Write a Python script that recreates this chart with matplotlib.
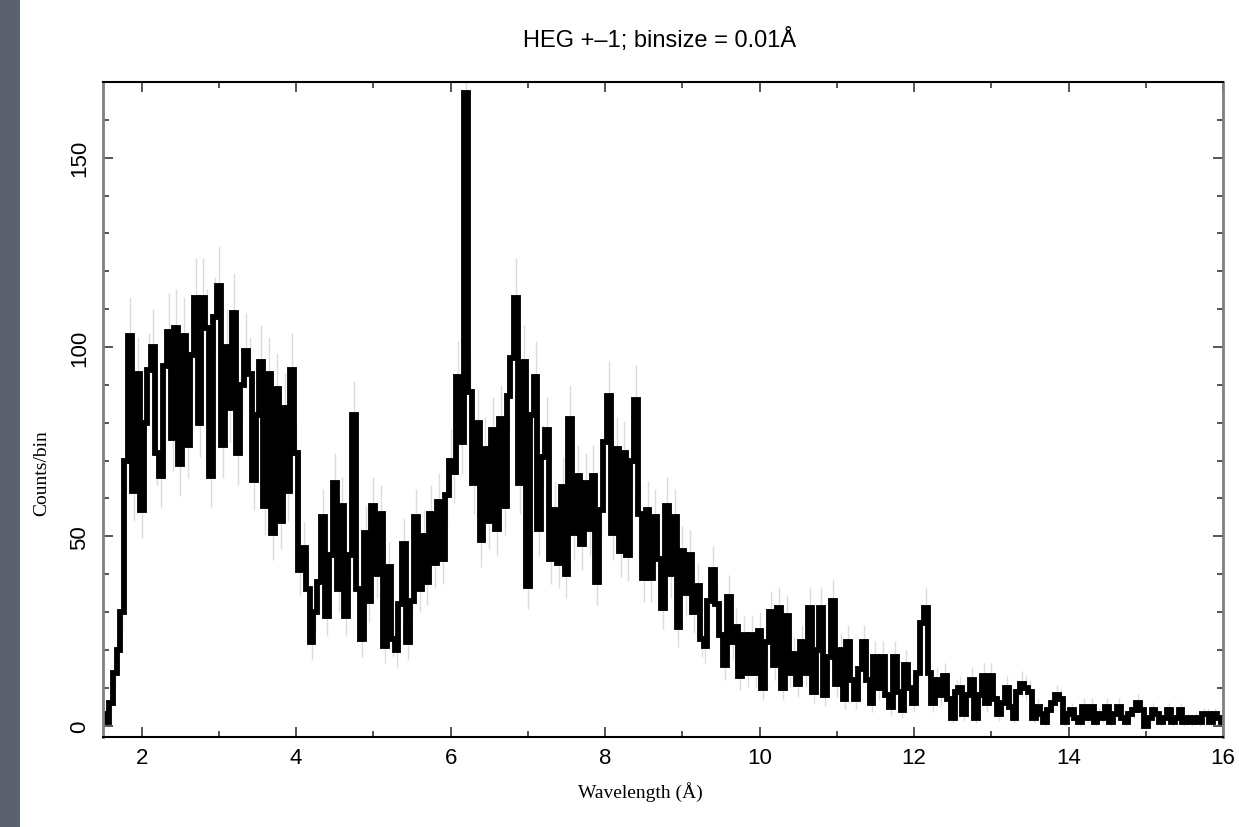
import numpy as np
import matplotlib.pyplot as plt
from matplotlib.patches import Rectangle

# wavelength grid (Angstrom), read every 0.05 A off the picture
wave_start = 1.5
wave_step = 0.05
counts = [
    3, 1, 6, 14, 20, 30, 70, 103, 62, 93,            # 1.50 - 1.95
    57, 80, 94, 100, 72, 66, 95, 104, 76, 105,       # 2.00 - 2.45
    69, 103, 74, 98, 113, 80, 113, 105, 66, 108,     # 2.50 - 2.95
    116, 74, 100, 84, 109, 72, 90, 99, 93, 65,       # 3.00 - 3.45
    82, 96, 58, 93, 51, 89, 54, 84, 62, 94,          # 3.50 - 3.95
    72, 41, 47, 36, 22, 30, 38, 55, 29, 45,          # 4.00 - 4.45
    64, 36, 58, 29, 45, 82, 36, 23, 51, 33,          # 4.50 - 4.95
    58, 40, 56, 21, 42, 23, 20, 32, 48, 22,          # 5.00 - 5.45
    33, 55, 36, 50, 38, 56, 43, 59, 44, 61,          # 5.50 - 5.95
    70, 67, 92, 75, 167, 88, 64, 80, 49, 73,         # 6.00 - 6.45
    54, 78, 52, 81, 58, 87, 97, 113, 64, 96,         # 6.50 - 6.95
    37, 82, 92, 52, 71, 78, 44, 57, 43, 63,          # 7.00 - 7.45
    40, 81, 51, 66, 48, 64, 52, 66, 38, 57,          # 7.50 - 7.95
    75, 87, 51, 73, 46, 72, 45, 70, 86, 56,          # 8.00 - 8.45
    39, 57, 39, 55, 44, 31, 58, 40, 55, 26,          # 8.50 - 8.95
    46, 35, 45, 30, 37, 23, 21, 33, 41, 32,          # 9.00 - 9.45
    24, 16, 34, 22, 26, 13, 24, 14, 24, 14,          # 9.50 - 9.95
    25, 10, 22, 30, 16, 31, 10, 29, 14, 19,          # 10.00 - 10.45
    11, 22, 14, 31, 9, 20, 31, 8, 18, 33,            # 10.50 - 10.95
    11, 20, 7, 22, 12, 7, 15, 22, 12, 6,             # 11.00 - 11.45
    18, 10, 18, 8, 5, 18, 9, 4, 16, 10,              # 11.50 - 11.95
    6, 14, 27, 31, 14, 6, 12, 8, 13, 7,              # 12.00 - 12.45
    2, 9, 10, 3, 8, 12, 2, 8, 13, 6,                 # 12.50 - 12.95
    13, 7, 3, 6, 10, 5, 2, 9, 11, 10,                # 13.00 - 13.45
    9, 2, 5, 3, 1, 4, 6, 8, 7, 1,                    # 13.50 - 13.95
    3, 4, 2, 1, 5, 2, 5, 1, 3, 2,                    # 14.00 - 14.45
    5, 1, 3, 5, 2, 1, 3, 4, 6, 4,                    # 14.50 - 14.95
    0, 2, 4, 3, 1, 2, 4, 1, 2, 4,                    # 15.00 - 15.45
    1, 2, 1, 2, 1, 3, 3, 1, 3, 2,                    # 15.50 - 15.95
    1,                                               # 16.00
]

counts = np.array(counts, dtype=float)
wave = wave_start + wave_step * np.arange(len(counts))
err = np.sqrt(np.maximum(counts, 1.0))

fig = plt.figure(figsize=(12.39, 8.28), dpi=100)
fig.patches.append(Rectangle((0, 0), 20 / 1239, 1, transform=fig.transFigure,
                             facecolor="#5b616d", edgecolor="none", zorder=0))
ax = fig.add_axes([103 / 1239, 1 - 738 / 828, 1120 / 1239, 655 / 828])

ax.errorbar(wave, counts, yerr=err, fmt="none", ecolor="#dcdcdc",
            elinewidth=1.0, zorder=1)
ax.step(wave, counts, where="mid", color="black", lw=4.2,
        solid_joinstyle="miter", zorder=2)

ax.set_xlim(1.5, 16)
ax.set_ylim(-3, 170)
ax.set_xticks([2, 4, 6, 8, 10, 12, 14, 16])
ax.set_xticks(np.arange(3, 16, 2), minor=True)
ax.set_yticks([0, 50, 100, 150])
ax.set_yticks(np.arange(10, 170, 10), minor=True)

sans = ["Liberation Sans", "DejaVu Sans"]
serif = ["Liberation Serif", "DejaVu Serif"]
ax.tick_params(which="both", direction="in", top=True, right=True,
               color="#555555", width=1.4)
ax.tick_params(which="major", length=7.5)
ax.tick_params(which="minor", length=4.5)
ax.tick_params(axis="x", pad=7, labelsize=16)
ax.tick_params(axis="y", pad=9, labelsize=16)
for lab in ax.get_xticklabels() + ax.get_yticklabels():
    lab.set_family(sans)
for lab in ax.get_yticklabels():
    lab.set_rotation(90)
    lab.set_va("center")

for side in ["top", "bottom"]:
    ax.spines[side].set_color("black")
    ax.spines[side].set_linewidth(1.5)
for side in ["left", "right"]:
    ax.spines[side].set_color("#808080")
    ax.spines[side].set_linewidth(2.0)

ax.set_xlabel("Wavelength (Å)", family=serif, fontsize=14)
ax.set_ylabel("Counts/bin", family=serif, fontsize=14)
ax.xaxis.set_label_coords(0.48, -0.067)
ax.yaxis.set_label_coords(-0.047, 0.405)

fig.text(0.532, 1 - 40 / 828, "HEG +\u20131; binsize = 0.01Å", family=sans,
         fontsize=17, ha="center", va="center")

fig.savefig("out.png", dpi=100)
